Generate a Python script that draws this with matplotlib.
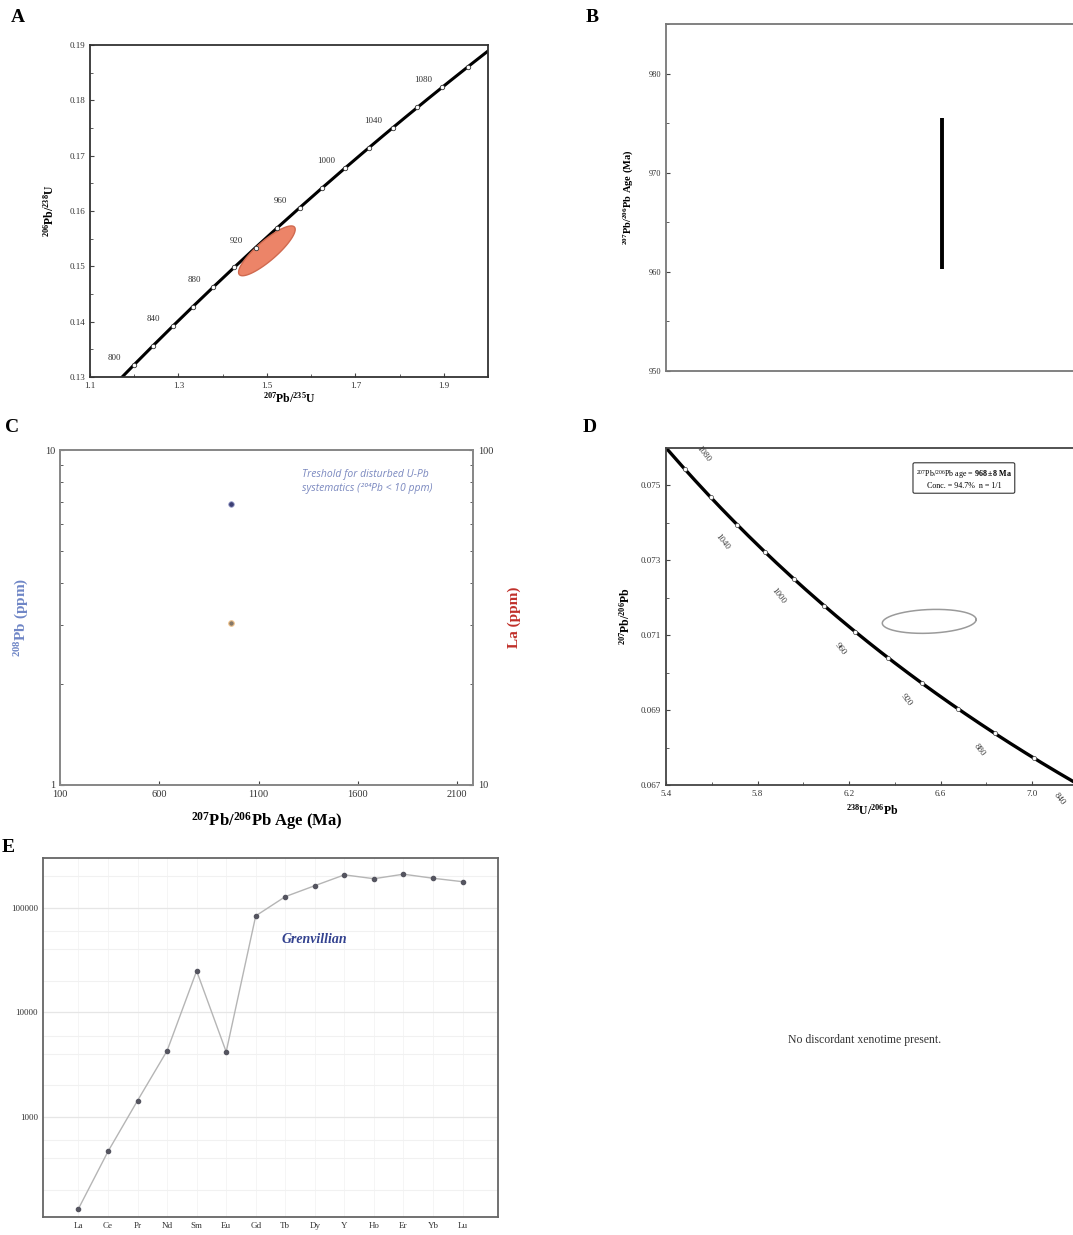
import numpy as np
import matplotlib
matplotlib.use('Agg')
import matplotlib.pyplot as plt
from matplotlib.ticker import MultipleLocator, FixedLocator, FixedFormatter, NullFormatter, LogLocator

plt.rcParams['font.family'] = ['Liberation Serif', 'DejaVu Serif']
plt.rcParams['mathtext.fontset'] = 'custom'
plt.rcParams['mathtext.rm'] = 'Liberation Serif'
plt.rcParams['mathtext.bf'] = 'Liberation Serif:bold'
plt.rcParams['mathtext.it'] = 'Liberation Serif:italic'

W, H = 1073, 1235

# decay constants (1/yr)
L238 = 1.55125e-10
L235 = 9.8485e-10

# --- data ---
# A: Wetherill concordia + one analysis
conc_ages_A = np.arange(780, 1140, 2)          # Ma, curve
tick_ages_A = [800, 820, 840, 860, 880, 900, 920, 940, 960, 980, 1000,
               1020, 1040, 1060, 1080, 1100]
label_ages_A = [800, 840, 880, 920, 960, 1000, 1040, 1080]
ellA_center = (1.50, 0.1528)
ellA_half = (0.064, 0.0045)
ellA_rho = 0.86

# B: weighted mean age
age_B = [967.9]
err_B = [7.6]

# C: trace element vs age
age_C = [963]
pb208_C = [6.9]
la_C = [30.4]

# D: Tera-Wasserburg
conc_ages_D = np.arange(830, 1100, 2)
tick_ages_D = list(range(840, 1100, 20))
label_ages_D = [840, 880, 920, 960, 1000, 1040, 1080]
ellD_center = (6.55, 0.07137)
ellD_half = (0.205, 0.00032)
ellD_rho = 0.15

# E: REE pattern
ree = ['La', 'Ce', 'Pr', 'Nd', 'Sm', 'Eu', 'Gd', 'Tb', 'Dy', 'Y', 'Ho', 'Er', 'Yb', 'Lu']
ree_vals = [132, 466, 1430, 4290, 24900, 4190, 83800, 128000, 163000,
            207000, 190000, 210000, 192000, 178000]


def rect(l, t, r, b):
    return [l / W, 1 - b / H, (r - l) / W, (b - t) / H]


def wetherill(t):
    t = np.asarray(t, dtype=float) * 1e6
    return np.exp(L235 * t) - 1, np.exp(L238 * t) - 1


def tera(t):
    t = np.asarray(t, dtype=float) * 1e6
    r68 = np.exp(L238 * t) - 1
    r75 = np.exp(L235 * t) - 1
    return 1 / r68, r75 / r68 / 137.88


def ellipse(c, half, rho):
    th = np.linspace(0, 2 * np.pi, 200)
    x = c[0] + half[0] * np.cos(th)
    y = c[1] + half[1] * (rho * np.cos(th) + np.sqrt(1 - rho ** 2) * np.sin(th))
    return x, y


def style(ax, col='#555555'):
    for s in ax.spines.values():
        s.set_color(col)
        s.set_linewidth(1.3)
    ax.tick_params(which='both', direction='in', labelsize=6.5, colors='#444444',
                   labelcolor='#333333')
    ax.tick_params(which='major', length=3)
    ax.tick_params(which='minor', length=2)


fig = plt.figure(figsize=(W / 100, H / 100), dpi=100)

# ---------------- A ----------------
axA = fig.add_axes(rect(90, 45, 488, 377))
cx, cy = wetherill(conc_ages_A)
axA.plot(cx, cy, color='black', lw=2.2, zorder=2)
ex, ey = ellipse(ellA_center, ellA_half, ellA_rho)
axA.fill(ex, ey, facecolor='#ec8468', edgecolor='#d06a50', lw=1, zorder=3)
tx, ty = wetherill(tick_ages_A)
axA.plot(tx, ty, 'o', ms=3.2, mfc='white', mec='#333333', mew=0.6, zorder=4)
for a in label_ages_A:
    lx, ly = wetherill([a])
    axA.annotate(str(a), (lx[0], ly[0]), xytext=(-14, 5), textcoords='offset points',
                 ha='center', va='center', fontsize=6.5, color='#333333')
axA.set_xlim(1.1, 2.0)
axA.set_ylim(0.13, 0.19)
axA.xaxis.set_major_locator(FixedLocator([1.1, 1.3, 1.5, 1.7, 1.9]))
axA.xaxis.set_minor_locator(MultipleLocator(0.1))
axA.yaxis.set_major_locator(MultipleLocator(0.01))
axA.yaxis.set_minor_locator(MultipleLocator(0.005))
axA.set_xticklabels(['1.1', '1.3', '1.5', '1.7', '1.9'])
style(axA, '#333333')
axA.set_xlabel(r'$^{\mathbf{207}}$Pb/$^{\mathbf{235}}$U', fontsize=8.5, fontweight='bold', labelpad=1)
axA.set_ylabel(r'$^{\mathbf{206}}$Pb/$^{\mathbf{238}}$U', fontsize=8.5, fontweight='bold', labelpad=9)

# ---------------- B ----------------
axB = fig.add_axes(rect(666, 24, 1085, 371))
axB.errorbar([1], age_B, yerr=err_B, fmt='none', ecolor='black', elinewidth=2.8, capsize=0)
axB.set_xlim(0, 1.52)
axB.set_ylim(950, 985)
axB.yaxis.set_major_locator(MultipleLocator(10))
axB.yaxis.set_minor_locator(MultipleLocator(5))
axB.set_xticks([])
style(axB, '#777777')
axB.tick_params(labelsize=6)
axB.set_ylabel(r'$^{\mathbf{207}}$Pb/$^{\mathbf{206}}$Pb Age (Ma)', fontsize=7.5, fontweight='bold', labelpad=10)

# ---------------- C ----------------
axC = fig.add_axes(rect(60, 450, 473, 785))
axC.set_yscale('log')
axC.set_ylim(1, 10)
axC.set_xlim(100, 2180)
axC.xaxis.set_major_locator(FixedLocator([100, 600, 1100, 1600, 2100]))
axC.yaxis.set_major_locator(FixedLocator([1, 10]))
axC.yaxis.set_major_formatter(FixedFormatter(['1', '10']))
axC.yaxis.set_minor_formatter(NullFormatter())
axC.scatter(age_C, pb208_C, s=16, color='#3c3f74', edgecolor='#9fa3cf', lw=0.6, zorder=3)
axC2 = axC.twinx()
axC2.set_yscale('log')
axC2.set_ylim(10, 100)
axC2.yaxis.set_major_locator(FixedLocator([10, 100]))
axC2.yaxis.set_major_formatter(FixedFormatter(['10', '100']))
axC2.yaxis.set_minor_formatter(NullFormatter())
axC2.scatter(age_C, la_C, s=16, color='#857868', edgecolor='#f2c58f', lw=0.8, zorder=3)
style(axC, '#888888')
style(axC2, '#888888')
axC.tick_params(labelsize=7.5)
axC2.tick_params(labelsize=7.5)
axC.set_xlabel(r'$^{\mathbf{207}}$Pb/$^{\mathbf{206}}$Pb Age (Ma)', fontsize=12, fontweight='bold', labelpad=8)
axC.set_ylabel(r'$^{\mathbf{208}}$Pb (ppm)', fontsize=11, fontweight='bold', color='#6f86c6', labelpad=10)
axC2.set_ylabel('La (ppm)', fontsize=11, fontweight='bold', color='#c0302a', labelpad=10)
axC.text(0.585, 0.905, 'Treshold for disturbed U-Pb\nsystematics (²⁰⁴Pb < 10 ppm)',
         transform=axC.transAxes, fontsize=7.5, style='italic', color='#7a88bf',
         family=['Open Sans', 'DejaVu Sans'], va='center', linespacing=1.4)

# ---------------- D ----------------
axD = fig.add_axes(rect(666, 448, 1078, 785))
dx, dy = tera(conc_ages_D)
axD.plot(dx, dy, color='black', lw=2.4, zorder=2)
tdx, tdy = tera(tick_ages_D)
axD.plot(tdx, tdy, 'o', ms=3, mfc='white', mec='#444444', mew=0.5, zorder=4, clip_on=False)
for a in label_ages_D:
    lx, ly = tera([a])
    off = (13, 11) if a == 1080 else (-11, -12)
    axD.annotate(str(a), (lx[0], ly[0]), xytext=off, textcoords='offset points',
                 ha='center', va='center', fontsize=6.3, rotation=-52, color='#333333',
                 annotation_clip=False)
ex, ey = ellipse(ellD_center, ellD_half, ellD_rho)
axD.plot(ex, ey, color='#9a9a9a', lw=1.1)
axD.set_xlim(5.4, 7.2)
axD.set_ylim(0.067, 0.076)
axD.xaxis.set_major_locator(FixedLocator([5.4, 5.8, 6.2, 6.6, 7.0]))
axD.xaxis.set_minor_locator(MultipleLocator(0.2))
axD.yaxis.set_major_locator(FixedLocator([0.067, 0.069, 0.071, 0.073, 0.075]))
axD.yaxis.set_minor_locator(MultipleLocator(0.001))
axD.set_xticklabels(['5.4', '5.8', '6.2', '6.6', '7.0'])
axD.set_yticklabels(['0.067', '0.069', '0.071', '0.073', '0.075'])
style(axD, '#444444')
axD.set_xlabel(r'$^{\mathbf{238}}$U/$^{\mathbf{206}}$Pb', fontsize=8.5, fontweight='bold', labelpad=4)
axD.set_ylabel(r'$^{\mathbf{207}}$Pb/$^{\mathbf{206}}$Pb', fontsize=8.5, fontweight='bold', labelpad=6)
axD.text(0.723, 0.908,
         r'$^{207}$Pb/$^{206}$Pb age = $\mathbf{968 \pm 8\ Ma}$' + '\nConc. = 94.7%  n = 1/1',
         transform=axD.transAxes, ha='center', va='center', fontsize=5.8, linespacing=1.3,
         bbox=dict(boxstyle='round,pad=0.35,rounding_size=0.2', fc='white', ec='#333333', lw=0.8))

# ---------------- E ----------------
axE = fig.add_axes(rect(43, 858, 498, 1217))
xi = np.arange(len(ree))
axE.set_yscale('log')
axE.plot(xi, ree_vals, color='#b5b5b5', lw=1.0, zorder=2)
axE.plot(xi, ree_vals, 'o', ms=3, color='#555560', zorder=3)
axE.set_xlim(-1.2, 14.2)
axE.set_ylim(110, 300000)
axE.set_xticks(xi)
axE.set_xticklabels(ree)
axE.yaxis.set_major_locator(FixedLocator([1000, 10000, 100000]))
axE.yaxis.set_major_formatter(FixedFormatter(['1000', '10000', '100000']))
axE.yaxis.set_minor_locator(LogLocator(base=10, subs=[2, 4, 6]))
axE.yaxis.set_minor_formatter(NullFormatter())
axE.grid(True, which='major', axis='y', color='#e6e6e6', lw=0.9)
axE.grid(True, which='minor', axis='y', color='#f1f1f1', lw=0.8)
axE.grid(True, which='major', axis='x', color='#f5f5f5', lw=0.7)
axE.set_axisbelow(True)
style(axE, '#666666')
axE.tick_params(which='both', length=0, labelsize=6.5)
axE.text(8.0, 49400, 'Grenvillian', fontsize=10, fontweight='bold', style='italic',
         color='#33428f', ha='center', va='center')

fig.text(865 / W, 1 - 1040 / H, 'No discordant xenotime present.', fontsize=8.5,
         ha='center', va='center', color='#333333')

# panel letters
for lab, x, y in [('A', 18, 18), ('B', 592, 18), ('C', 12, 428), ('D', 590, 428), ('E', 8, 848)]:
    fig.text(x / W, 1 - y / H, lab, fontsize=14, fontweight='bold', ha='center', va='center')

fig.savefig('out.png', dpi=100)
